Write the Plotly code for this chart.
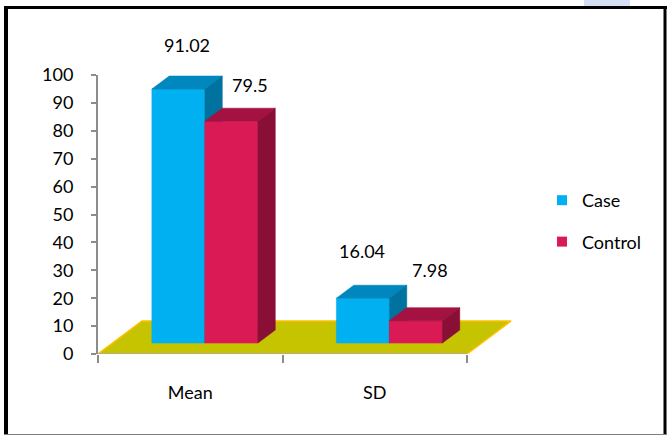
import plotly.graph_objects as go

# ---- data -------------------------------------------------------------
categories = ["Mean", "SD"]
series_names = ["Case", "Control"]
case_values = [91.02, 16.04]
control_values = [79.5, 7.98]
y_tick_values = [0, 10, 20, 30, 40, 50, 60, 70, 80, 90, 100]

# ---- styling ------------------------------------------------------------
FONT = "Lato"
FONT_SIZE = 18
AXIS_GREY = "#8C8C8C"
FLOOR_FILL = "#C6C300"
FLOOR_EDGE = "#FFC000"
FACE_COLORS = {
    "Case": {"front": "#00B0F0", "top": "#0087BD", "side": "#00729F"},
    "Control": {"front": "#DA1A55", "top": "#A31241", "side": "#8A0F37"},
}

# ---- layout geometry (pixels) -----------------------------------------
FIG_W, FIG_H = 667, 437
M_L, M_R, M_T, M_B = 98, 130, 75, 83
PLOT_W = FIG_W - M_L - M_R
PLOT_H = FIG_H - M_T - M_B
PX_PER_CAT = 184.5
PX_PER_UNIT = PLOT_H / 100.0
X_MIN = -0.5
X_MAX = X_MIN + PLOT_W / PX_PER_CAT

# pseudo-3D depth of the floor, expressed in axis units
DEPTH_DX = 44 / PX_PER_CAT
DEPTH_DY = 33 / PX_PER_UNIT
BAR_FRONT = 0.333   # depth fraction of the bars' front faces
BAR_BACK = 0.727    # depth fraction of the bars' back faces
BAR_W = 53 / PX_PER_CAT

# pixel nudges for the value labels (Case Mean, Control Mean, Case SD, Control SD)
LABEL_NUDGE = [(0, 38), (10, 30), (-10, 41), (5, 44)]

fig = go.Figure()


def poly(xs, ys, color):
    fig.add_trace(go.Scatter(
        x=xs + [xs[0]], y=ys + [ys[0]], mode="lines", fill="toself",
        fillcolor=color, line=dict(color=color, width=0.6),
        hoverinfo="skip", showlegend=False,
    ))


# floor
x_end = X_MIN + len(categories)
fig.add_trace(go.Scatter(
    x=[X_MIN, x_end, x_end + DEPTH_DX, X_MIN + DEPTH_DX, X_MIN],
    y=[0, 0, DEPTH_DY, DEPTH_DY, 0],
    mode="lines", fill="toself", fillcolor=FLOOR_FILL,
    line=dict(color=FLOOR_EDGE, width=1.5),
    hoverinfo="skip", showlegend=False,
))

# bars as front / top / side faces
values_by_series = {"Case": case_values, "Control": control_values}
annotations = []
bdx = (BAR_BACK - BAR_FRONT) * DEPTH_DX
bdy = (BAR_BACK - BAR_FRONT) * DEPTH_DY
label_i = 0
for ci, cat in enumerate(categories):
    for si, name in enumerate(series_names):
        v = values_by_series[name][ci]
        cols = FACE_COLORS[name]
        x0 = ci + BAR_FRONT * DEPTH_DX - BAR_W + si * BAR_W
        x1 = x0 + BAR_W
        y0 = BAR_FRONT * DEPTH_DY
        y1 = y0 + v
        poly([x0, x1, x1, x0], [y0, y0, y1, y1], cols["front"])
        poly([x0, x1, x1 + bdx, x0 + bdx], [y1, y1, y1 + bdy, y1 + bdy], cols["top"])
        poly([x1, x1 + bdx, x1 + bdx, x1], [y0, y0 + bdy, y1 + bdy, y1], cols["side"])
        nx, ny = LABEL_NUDGE[label_i]
        label_i += 1
        annotations.append(dict(
            x=(x0 + x1) / 2 + bdx / 2, y=y1 + bdy / 2, xref="x", yref="y",
            text=f"{v:g}", showarrow=False, xshift=nx, yshift=ny,
            font=dict(family=FONT, size=FONT_SIZE, color="black"),
        ))

# legend entries
for name in series_names:
    fig.add_trace(go.Scatter(
        x=[None], y=[None], mode="markers", name=name, legendgroup=name,
        marker=dict(symbol="square", size=10, color=FACE_COLORS[name]["front"]),
    ))


def px_x(p):
    return (p - M_L) / PLOT_W


def px_y(p):
    return 1 - (p - M_T) / PLOT_H


shapes = [
    # category axis line
    dict(type="line", xref="x", yref="y", x0=X_MIN, x1=x_end, y0=0, y1=0,
         line=dict(color="#A6A6A6", width=1.5), layer="above"),
    # chart frame
    dict(type="line", xref="paper", yref="paper", x0=px_x(6), x1=px_x(6),
         y0=px_y(6), y1=px_y(435), line=dict(color="black", width=4)),
    dict(type="line", xref="paper", yref="paper", x0=px_x(4), x1=px_x(667),
         y0=px_y(7.5), y1=px_y(7.5), line=dict(color="black", width=3)),
    dict(type="line", xref="paper", yref="paper", x0=px_x(665), x1=px_x(665),
         y0=px_y(6), y1=px_y(435), line=dict(color="black", width=3)),
    dict(type="line", xref="paper", yref="paper", x0=px_x(4), x1=px_x(667),
         y0=px_y(434.5), y1=px_y(434.5), line=dict(color="#7F7F7F", width=1)),
    dict(type="rect", xref="paper", yref="paper", x0=px_x(584), x1=px_x(630),
         y0=px_y(0), y1=px_y(6), fillcolor="#D3DFF2", line=dict(width=0)),
]

fig.update_layout(
    width=FIG_W, height=FIG_H,
    margin=dict(l=M_L, r=M_R, t=M_T, b=M_B, autoexpand=False),
    paper_bgcolor="white", plot_bgcolor="rgba(0,0,0,0)",
    font=dict(family=FONT, size=FONT_SIZE, color="black"),
    showlegend=True,
    legend=dict(
        xref="container", yref="container", x=542 / FIG_W, y=1 - 182 / FIG_H,
        xanchor="left", yanchor="top", tracegroupgap=15,
        font=dict(family=FONT, size=FONT_SIZE, color="black"),
        bgcolor="rgba(0,0,0,0)",
    ),
    xaxis=dict(
        range=[X_MIN, X_MAX], tickvals=[0, 1], ticktext=categories,
        ticks="", showline=False, showgrid=False, zeroline=False,
        ticklabelstandoff=26,
        minor=dict(tickvals=[-0.5, 0.5, 1.5], ticks="outside", ticklen=8,
                   tickwidth=2, tickcolor=AXIS_GREY),
        fixedrange=True,
    ),
    yaxis=dict(
        range=[0, 100], tickvals=y_tick_values, ticks="outside", ticklen=5,
        tickwidth=2, tickcolor=AXIS_GREY, showline=True, linecolor=AXIS_GREY,
        linewidth=2, showgrid=False, zeroline=False, ticklabelstandoff=14,
        fixedrange=True,
    ),
    shapes=shapes,
    annotations=annotations,
)

fig.write_html("out.html")
